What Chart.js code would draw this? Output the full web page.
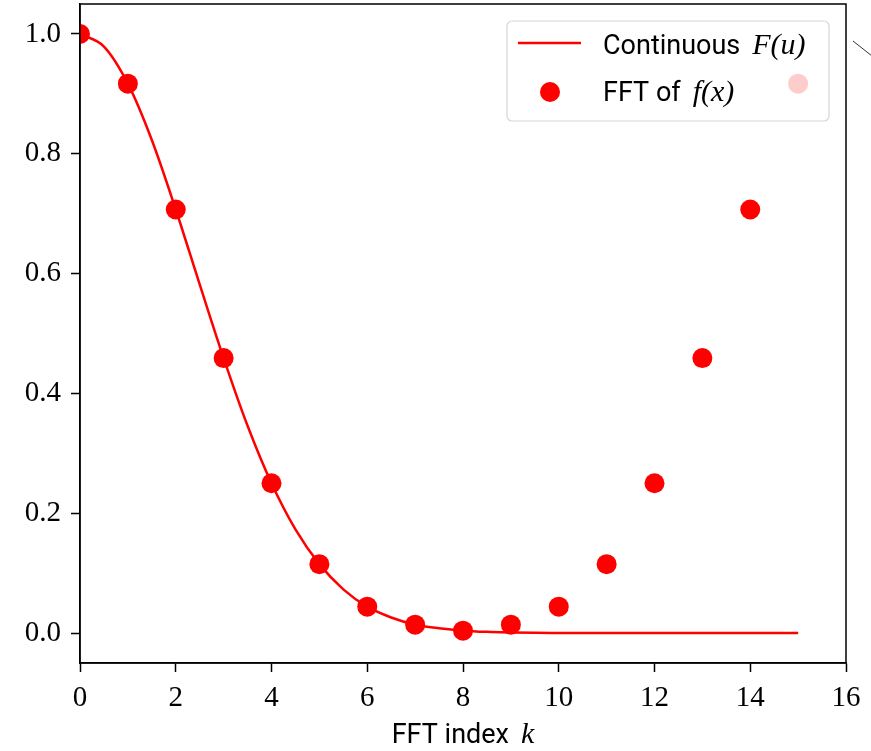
<!DOCTYPE html>
<html>
<head>
<meta charset="utf-8">
<script src="https://cdn.jsdelivr.net/npm/chart.js@4.4.0/dist/chart.umd.min.js"></script>
<style>
  html, body { margin: 0; padding: 0; background: #ffffff; }
  #wrap { width: 871px; height: 751px; position: relative; }
</style>
</head>
<body>
<div id="wrap"><canvas id="c" width="871" height="751"></canvas></div>
<script>
// ---- data ----
const fftIndex = [0, 1, 2, 3, 4, 5, 6, 7, 8, 9, 10, 11, 12, 13, 14, 15];
const fftValues = [1.0, 0.917, 0.707, 0.459, 0.25, 0.115, 0.044, 0.014, 0.004, 0.014, 0.044, 0.115, 0.25, 0.459, 0.707, 0.917];

const curveU = [0, 0.5, 1, 1.5, 2, 2.5, 3, 3.5, 4, 4.5, 5, 5.5, 6, 6.5, 7, 7.5, 8, 8.5, 9, 9.5, 10, 11, 12, 13, 14, 15];
const curveF = [1.0, 0.979, 0.917, 0.823, 0.707, 0.582, 0.459, 0.346, 0.25, 0.173, 0.115, 0.073, 0.044, 0.026, 0.014, 0.008, 0.004, 0.002, 0.001, 0.0004, 0.0002, 0, 0, 0, 0, 0];

const xTickValues = [0, 2, 4, 6, 8, 10, 12, 14, 16];
const yTickValues = [0.0, 0.2, 0.4, 0.6, 0.8, 1.0];

const legendLabels = [
  { sans: 'Continuous', math: 'F(u)' },
  { sans: 'FFT of', math: 'f(x)' }
];
const xTitle = { sans: 'FFT index', math: 'k' };

// ---- styles ----
const RED = '#ff0000';
const SERIF = '"Liberation Serif", "DejaVu Serif", serif';
const SANS = 'Roboto, "Open Sans", "DejaVu Sans", sans-serif';
const SANS_SIZE = 27;
const MATH_SIZE = 30;
const GAP = 12;

function mixedWidth(ctx, parts) {
  ctx.font = SANS_SIZE + 'px ' + SANS;
  const w1 = ctx.measureText(parts.sans).width;
  ctx.font = 'italic ' + MATH_SIZE + 'px ' + SERIF;
  const w2 = ctx.measureText(parts.math).width;
  return w1 + GAP + w2;
}
function drawMixed(ctx, parts, x, y) {
  ctx.textBaseline = 'alphabetic';
  ctx.textAlign = 'left';
  ctx.fillStyle = '#000';
  ctx.font = SANS_SIZE + 'px ' + SANS;
  ctx.fillText(parts.sans, x, y);
  const w1 = ctx.measureText(parts.sans).width;
  ctx.font = 'italic ' + MATH_SIZE + 'px ' + SERIF;
  ctx.fillText(parts.math, x + w1 + GAP, y);
}

const framePlugin = {
  id: 'frame',
  afterDatasetsDraw(chart) {
    const ctx = chart.ctx;
    const a = chart.chartArea;
    ctx.save();
    // legend box (semi-transparent, drawn over data)
    const bx = a.right - 339, by = a.top + 17, bw = 322, bh = 100;
    ctx.beginPath();
    ctx.roundRect(bx, by, bw, bh, 5);
    ctx.fillStyle = 'rgba(255,255,255,0.8)';
    ctx.fill();
    ctx.strokeStyle = '#d6d6d6';
    ctx.lineWidth = 1.2;
    ctx.stroke();
    // line sample
    ctx.beginPath();
    ctx.moveTo(bx + 11, by + 22);
    ctx.lineTo(bx + 74, by + 22);
    ctx.strokeStyle = RED;
    ctx.lineWidth = 2.5;
    ctx.stroke();
    // dot sample
    ctx.beginPath();
    ctx.arc(bx + 43, by + 71, 10, 0, Math.PI * 2);
    ctx.fillStyle = RED;
    ctx.fill();
    drawMixed(ctx, legendLabels[0], bx + 96, by + 33);
    drawMixed(ctx, legendLabels[1], bx + 96, by + 80);
    ctx.restore();
  },
  afterDraw(chart) {
    const ctx = chart.ctx;
    const a = chart.chartArea;
    ctx.save();
    ctx.strokeStyle = '#000';
    ctx.lineWidth = 1.5;
    ctx.strokeRect(a.left, a.top, a.right - a.left, a.bottom - a.top);
    // small stray stroke at top right (as in reference)
    ctx.beginPath();
    ctx.moveTo(a.right + 7, a.top + 37);
    ctx.lineTo(a.right + 26, a.top + 52);
    ctx.lineWidth = 1;
    ctx.strokeStyle = '#333';
    ctx.stroke();
    // x axis title
    const w = mixedWidth(ctx, xTitle);
    drawMixed(ctx, xTitle, (a.left + a.right) / 2 - w / 2, a.bottom + 80);
    ctx.restore();
  }
};

const ctx = document.getElementById('c').getContext('2d');
new Chart(ctx, {
  data: {
    datasets: [
      {
        type: 'scatter',
        label: 'FFT of f(x)',
        data: fftIndex.map((k, i) => ({ x: k, y: fftValues[i] })),
        backgroundColor: RED,
        borderColor: RED,
        borderWidth: 0,
        pointRadius: 10,
        pointHoverRadius: 10,
        showLine: false,
        clip: 0,
        order: 0
      },
      {
        type: 'line',
        label: 'Continuous F(u)',
        data: curveU.map((u, i) => ({ x: u, y: curveF[i] })),
        borderColor: RED,
        backgroundColor: RED,
        borderWidth: 2.5,
        pointRadius: 0,
        cubicInterpolationMode: 'monotone',
        fill: false,
        order: 1
      }
    ]
  },
  options: {
    responsive: false,
    animation: false,
    events: [],
    layout: { autoPadding: false, padding: { top: 4, right: 25, left: 0, bottom: 0 } },
    plugins: { legend: { display: false }, tooltip: { enabled: false } },
    scales: {
      x: {
        type: 'linear',
        min: 0, max: 16,
        afterBuildTicks(scale) { scale.ticks = xTickValues.map(v => ({ value: v })); },
        afterFit(scale) { scale.height = 88; scale.paddingLeft = 0; scale.paddingRight = 0; },
        grid: { drawOnChartArea: false, drawTicks: true, tickLength: 9, tickColor: '#000', tickWidth: 1.5 },
        border: { display: true, color: '#000', width: 1.5 },
        ticks: {
          color: '#000',
          padding: 9,
          maxRotation: 0,
          autoSkip: false,
          font: { family: SERIF, size: 29 },
          callback: v => String(v)
        }
      },
      y: {
        type: 'linear',
        min: -0.05, max: 1.05,
        afterBuildTicks(scale) { scale.ticks = yTickValues.map(v => ({ value: v })); },
        afterFit(scale) { scale.width = 80; scale.paddingTop = 0; scale.paddingBottom = 0; },
        grid: { drawOnChartArea: false, drawTicks: true, tickLength: 9, tickColor: '#000', tickWidth: 1.5 },
        border: { display: true, color: '#000', width: 1.5 },
        ticks: {
          color: '#000',
          padding: 10,
          autoSkip: false,
          font: { family: SERIF, size: 29 },
          callback: v => Number(v).toFixed(1)
        }
      }
    }
  },
  plugins: [framePlugin]
});
</script>
</body>
</html>
